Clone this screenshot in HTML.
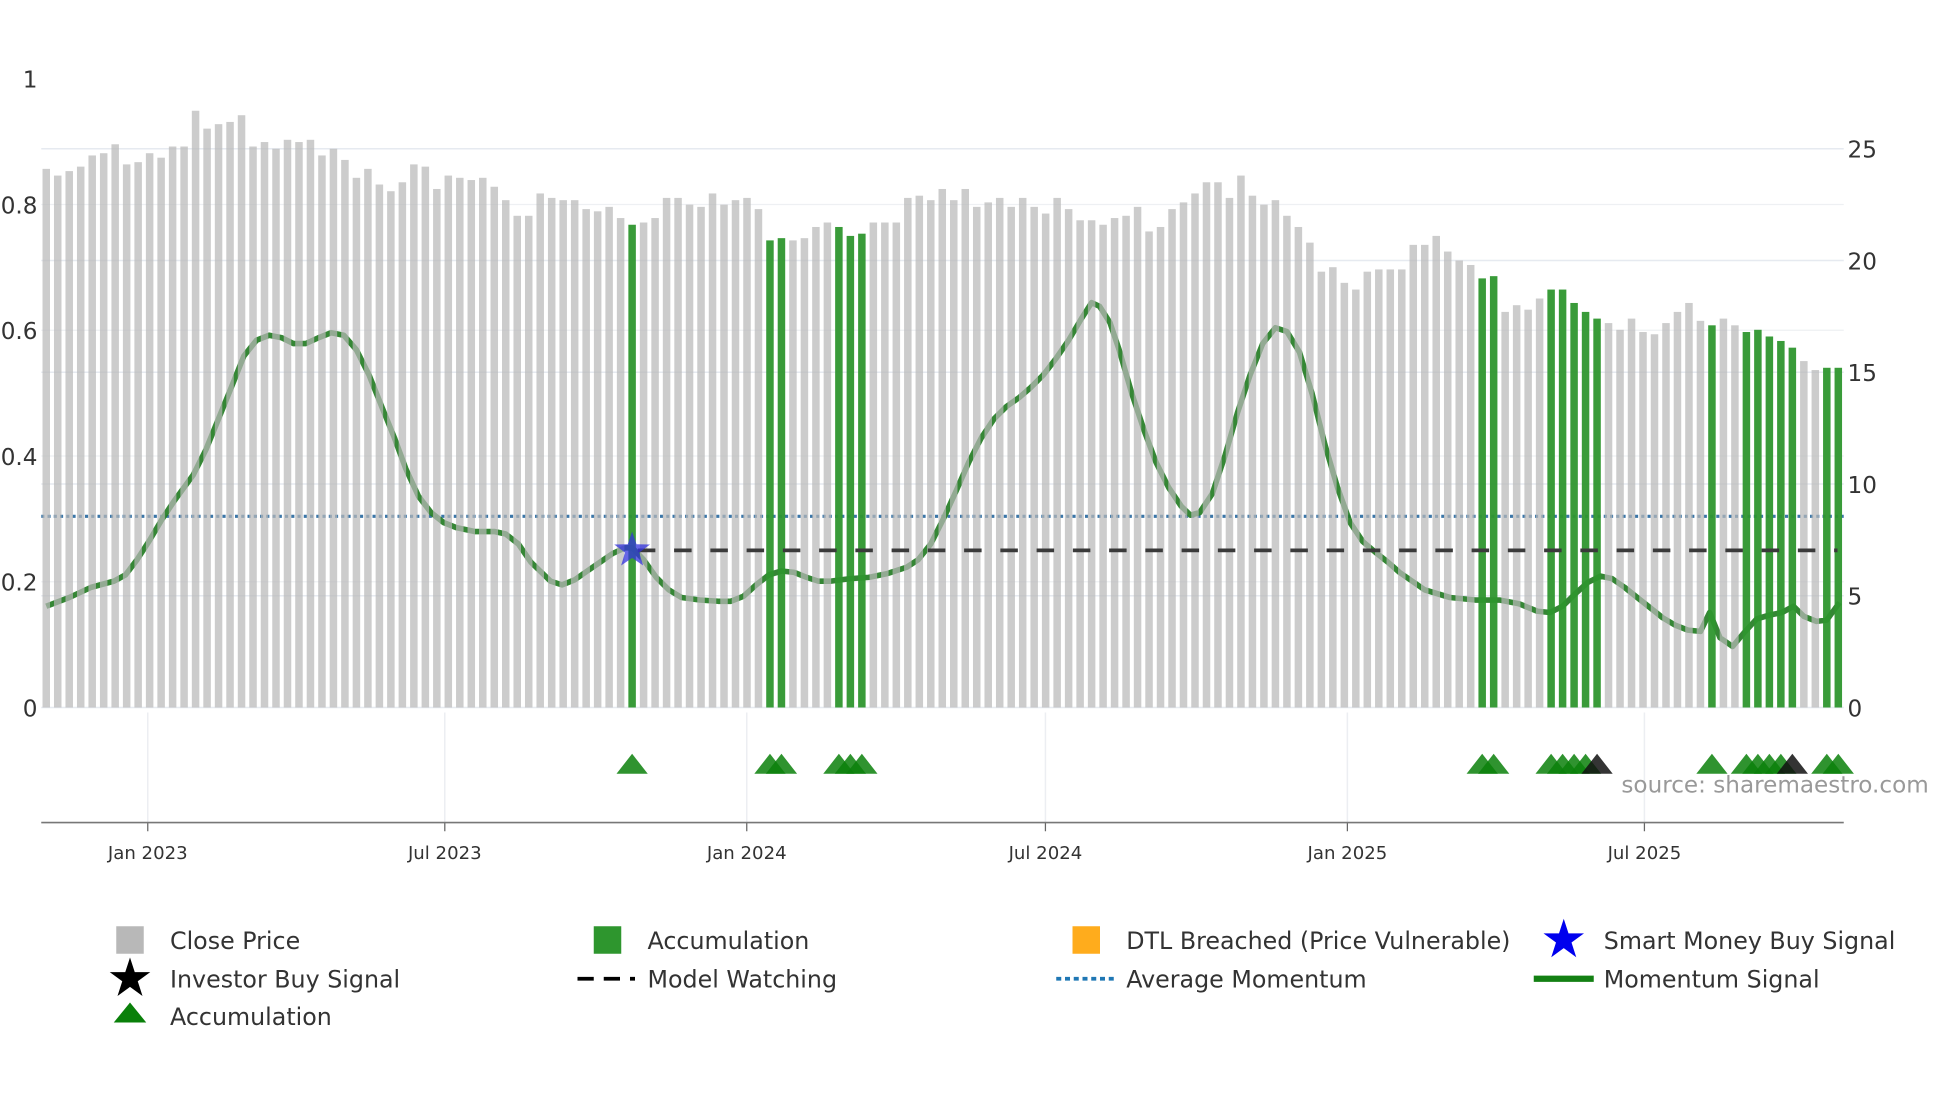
<!DOCTYPE html>
<html><head><meta charset="utf-8"><style>
html,body{margin:0;padding:0;background:#fff;}
svg{display:block;font-family:"DejaVu Sans","Liberation Sans",sans-serif;}
</style></head><body>
<svg id="chart" width="1960" height="1102" viewBox="0 0 1568 881.6" xmlns="http://www.w3.org/2000/svg">
<g id="grid"></g><g id="lines"></g><g id="bars"></g><g id="overlay"></g><g id="axes"></g>
<text x="1543" y="634" text-anchor="end" font-size="18.5" fill="#999">source: sharemaestro.com</text>
<g id="legend"></g>
</svg>
<script>
const closePrices=[24.1,23.8,24.0,24.2,24.7,24.8,25.2,24.3,24.4,24.8,
24.6,25.1,25.1,26.7,25.9,26.1,26.2,26.5,25.1,25.3,
25.0,25.4,25.3,25.4,24.7,25.0,24.5,23.7,24.1,23.4,
23.1,23.5,24.3,24.2,23.2,23.8,23.7,23.6,23.7,23.3,
22.7,22.0,22.0,23.0,22.8,22.7,22.7,22.3,22.2,22.4,
21.9,21.6,21.7,21.9,22.8,22.8,22.5,22.4,23.0,22.5,
22.7,22.8,22.3,20.9,21.0,20.9,21.0,21.5,21.7,21.5,
21.1,21.2,21.7,21.7,21.7,22.8,22.9,22.7,23.2,22.7,
23.2,22.4,22.6,22.8,22.4,22.8,22.4,22.1,22.8,22.3,
21.8,21.8,21.6,21.9,22.0,22.4,21.3,21.5,22.3,22.6,
23.0,23.5,23.5,22.8,23.8,22.9,22.5,22.7,22.0,21.5,
20.8,19.5,19.7,19.0,18.7,19.5,19.6,19.6,19.6,20.7,
20.7,21.1,20.4,20.0,19.8,19.2,19.3,17.7,18.0,17.8,
18.3,18.7,18.7,18.1,17.7,17.4,17.2,16.9,17.4,16.8,
16.7,17.2,17.7,18.1,17.3,17.1,17.4,17.1,16.8,16.9,
16.6,16.4,16.1,15.5,15.1,15.2,15.2];
const accumulationWeeks=[51,63,64,69,70,71,125,126,131,132,133,134,135,145,148,149,150,151,152,155,156];
const investorBuyWeeks=[135,152];
const smartMoneyWeek=51;
const modelWatchingStart=51.5;
const modelWatchingValue=0.25;
const averageMomentum=0.304;
const momentumWeeks=[0,2,3.9,5.9,6.9,7.9,9,10.1,11.2,12.8,13.9,15,16.1,17.2,18.3,19.4,20.5,21.5,22.6,23.7,24.8,25.9,27,28.1,29.2,30.3,31.3,32.4,33.5,34.6,35.7,37.3,39,40,41.1,42.2,43.9,44.9,46,47.1,48.2,49.3,50.4,51,52,53.1,54.2,55.3,56.9,58.5,59.6,60.7,61.8,62.9,64,65.1,66.2,67.2,68.3,70,71.6,73.2,74.9,75.9,77,78.1,79.2,80.3,81.4,82.5,83.6,84.7,85.7,86.8,87.9,89,90.1,91,91.7,92.6,93.4,94.5,95.6,96.6,97.7,98.8,99.6,100.4,101.5,102.6,103.7,104.8,105.9,107,108,109.1,110.2,111.3,112.4,113.5,114.6,115.7,116.8,117.8,118.9,120,122.2,124.4,126.5,128.2,129.8,130.9,132,133.1,134.2,135.3,136.3,137.4,138.5,139.6,140.7,141.8,142.9,144,144.8,145.7,146.8,147.8,148.9,150,151.1,152.1,153,154.1,155,156.1];
const momentumValues=[.161,.175,.191,.201,.211,.235,.266,.300,.330,.370,.410,.459,.509,.559,.584,.592,.588,.579,.579,.588,.596,.592,.569,.529,.479,.429,.380,.336,.310,.294,.286,.280,.280,.276,.260,.231,.201,.195,.203,.217,.231,.245,.254,.254,.235,.207,.187,.175,.171,.169,.169,.177,.195,.211,.217,.215,.207,.201,.201,.205,.207,.213,.223,.235,.260,.300,.344,.390,.429,.459,.479,.493,.509,.529,.555,.584,.618,.644,.638,.612,.569,.499,.439,.390,.350,.320,.306,.310,.340,.400,.469,.529,.579,.604,.598,.565,.499,.419,.350,.294,.264,.247,.231,.215,.201,.187,.175,.171,.171,.165,.153,.151,.161,.181,.199,.209,.205,.191,.175,.159,.143,.131,.123,.121,.151,.111,.097,.119,.141,.147,.151,.161,.145,.137,.139,.167];
const leftTicks=[0,0.2,0.4,0.6,0.8,1];
const leftTickLabels=["0","0.2","0.4","0.6","0.8","1"];
const rightTicks=[0,5,10,15,20,25];
const dateTicks=["2023-01-01","2023-07-01","2024-01-01","2024-07-01","2025-01-01","2025-07-01"];
const dateTickLabels=["Jan 2023","Jul 2023","Jan 2024","Jul 2024","Jan 2025","Jul 2025"];

const NS="http://www.w3.org/2000/svg";
const X0=37, STEP=9.19, PL=33, PR=1475, Y0=566;
const startDate=Date.UTC(2022,9,30);
function xWeek(w){return X0+w*STEP;}
function xDate(s){const d=(Date.parse(s+"T00:00:00Z")-startDate)/86400000;return X0+d*STEP/7-1.5;}
function yLeft(v){return Y0-v*503;}
function yRight(v){return Y0-v*17.88;}
function mk(tag,attrs,parent){const e=document.createElementNS(NS,tag);for(const k in attrs)e.setAttribute(k,attrs[k]);parent.appendChild(e);return e;}
const grid=document.getElementById('grid'),lines=document.getElementById('lines'),bars=document.getElementById('bars'),ov=document.getElementById('overlay'),axes=document.getElementById('axes'),lg=document.getElementById('legend');

rightTicks.forEach((t,i)=>{
  const l=mk('line',{x1:PL,x2:PR,y1:yRight(t),y2:yRight(t),stroke:'#e6eaf0','stroke-width':1.2},grid);
  
  
  const tx=mk('text',{x:1478,y:yRight(t)+7,'font-size':18.5,fill:'#333'},axes);
  tx.textContent=t;
  
  
});
leftTicks.forEach((t,i)=>{
  if(t>0&&t<1){const l=mk('line',{x1:PL,x2:PR,y1:yLeft(t),y2:yLeft(t),stroke:'#eef0f3','stroke-width':1},grid);
  
  }
  const tx=mk('text',{x:30,y:yLeft(t)+7,'font-size':18.5,fill:'#333','text-anchor':'end'},axes);
  tx.textContent=leftTickLabels[i];
  
  
});
dateTicks.forEach((d,i)=>{
  const x=xDate(d);
  const g=mk('line',{x1:x,x2:x,y1:570,y2:658,stroke:'#eceef2','stroke-width':1.2},grid);
  
  
  const tk=mk('line',{x1:x,x2:x,y1:658,y2:665,stroke:'#666','stroke-width':1},axes);
  
  
  const tx=mk('text',{x:x,y:687,'font-size':14.5,fill:'#333','text-anchor':'middle'},axes);
  tx.textContent=dateTickLabels[i];
  
  
});
const ax=mk('line',{x1:PL,x2:PR,y1:658,y2:658,stroke:'#777','stroke-width':1.3},axes);



const avg=mk('line',{x1:PL,x2:PR,y1:yLeft(averageMomentum),y2:yLeft(averageMomentum),stroke:'#3a76a8','stroke-width':2.5,'stroke-dasharray':'2.5 2.5'},lines);


let d='';
momentumWeeks.forEach((w,i)=>{d+=(i?'L':'M')+xWeek(w).toFixed(1)+','+yLeft(momentumValues[i]).toFixed(1);});
const ml=mk('path',{d:d,fill:'none',stroke:'#1f7a1f','stroke-width':4.5,'stroke-linejoin':'round','stroke-opacity':0.9},lines);


const mw=mk('line',{x1:xWeek(modelWatchingStart),x2:PR-5,y1:yLeft(modelWatchingValue),y2:yLeft(modelWatchingValue),stroke:'#3a3a3a','stroke-width':3,'stroke-dasharray':'14 15'},ov);



closePrices.forEach((v,i)=>{
  const acc=accumulationWeeks.includes(i);
  const r=mk('rect',{x:xWeek(i)-3,y:yRight(v),width:6,height:Y0-yRight(v),fill:acc?'#2e962e':'#b8b8b8','fill-opacity':acc?0.95:0.72},bars);
  
  
});

function starPts(cx,cy,R,r){let p=[];for(let k=0;k<10;k++){const a=-Math.PI/2+k*Math.PI/5;const rr=k%2?r:R;p.push((cx+rr*Math.cos(a)).toFixed(1)+','+(cy+rr*Math.sin(a)).toFixed(1));}return p.join(' ');}
function triPts(cx,cy,w,h){return (cx-w/2)+','+(cy+h/2)+' '+(cx+w/2)+','+(cy+h/2)+' '+cx+','+(cy-h/2);}

const sm=mk('polygon',{points:starPts(xWeek(smartMoneyWeek),yLeft(modelWatchingValue),15,6),fill:'#3333dd','fill-opacity':0.75},ov);



accumulationWeeks.forEach(w=>{
  const black=investorBuyWeeks.includes(w);
  const t=mk('polygon',{points:triPts(xWeek(w),611,25,16),fill:black?'#111':'#0a800a','fill-opacity':0.85},ov);
  
  
});

const items=[
 {x:104,y:752,type:'sq',c:'#b8b8b8',t:'Close Price',n:'legend-close-price'},
 {x:486,y:752,type:'sq',c:'#2e962e',t:'Accumulation',n:'legend-accumulation-bar'},
 {x:869,y:752,type:'sq',c:'#ffac1c',t:'DTL Breached (Price Vulnerable)',n:'legend-dtl-breached'},
 {x:1251,y:752,type:'star',c:'#0000ee',t:'Smart Money Buy Signal',n:'legend-smart-money'},
 {x:104,y:783,type:'star',c:'#000',t:'Investor Buy Signal',n:'legend-investor-buy'},
 {x:486,y:783,type:'dash',c:'#000',t:'Model Watching',n:'legend-model-watching'},
 {x:869,y:783,type:'dot',c:'#1f77b4',t:'Average Momentum',n:'legend-average-momentum'},
 {x:1251,y:783,type:'line',c:'#138013',t:'Momentum Signal',n:'legend-momentum-signal'},
 {x:104,y:813,type:'tri',c:'#0a800a',t:'Accumulation',n:'legend-accumulation-marker'}
];
items.forEach(it=>{
  const g=mk('g',{},lg);
  
  
  if(it.type==='sq')mk('rect',{x:it.x-11,y:it.y-11,width:22,height:22,fill:it.c},g);
  else if(it.type==='star')mk('polygon',{points:starPts(it.x,it.y,17,6.5),fill:it.c},g);
  else if(it.type==='dash')mk('line',{x1:it.x-24,x2:it.x+22,y1:it.y,y2:it.y,stroke:it.c,'stroke-width':3,'stroke-dasharray':'13 8'},g);
  else if(it.type==='dot')mk('line',{x1:it.x-24,x2:it.x+22,y1:it.y,y2:it.y,stroke:it.c,'stroke-width':3,'stroke-dasharray':'4 3'},g);
  else if(it.type==='line')mk('line',{x1:it.x-24,x2:it.x+24,y1:it.y,y2:it.y,stroke:it.c,'stroke-width':5},g);
  else mk('polygon',{points:triPts(it.x,it.y-3,26,16),fill:it.c},g);
  const tx=mk('text',{x:it.x+32,y:it.y+7,'font-size':19,fill:'#333'},g);
  tx.textContent=it.t;
});
</script>
</body></html>
